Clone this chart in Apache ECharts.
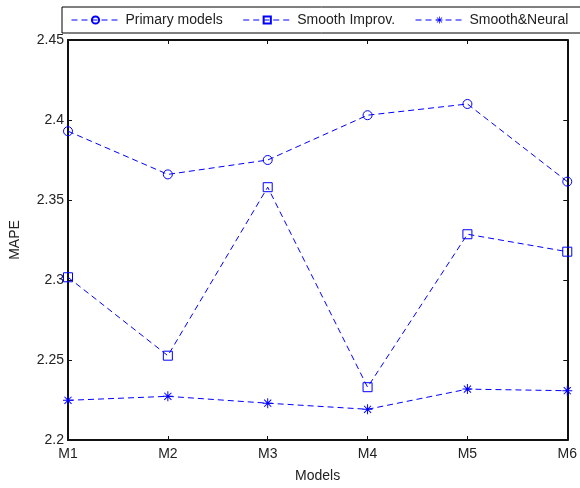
<!DOCTYPE html>
<html>
<head>
<meta charset="utf-8">
<script src="https://cdn.jsdelivr.net/npm/echarts@6/dist/echarts.min.js"></script>
<style>
  html, body { margin: 0; padding: 0; background: #fff; }
  #chart { width: 580px; height: 488px; }
</style>
</head>
<body>
<div id="chart"></div>
<script>
// data
var models = ['M1', 'M2', 'M3', 'M4', 'M5', 'M6'];
var primaryModels = [2.393, 2.366, 2.375, 2.403, 2.410, 2.3615];
var smoothImprov = [2.3017, 2.2527, 2.358, 2.233, 2.3286, 2.3177];
var smoothNeural = [2.2248, 2.2273, 2.223, 2.2192, 2.2318, 2.2308];

var blue = '#0000ff';
var asterisk = 'path://M4.5,0 L5.5,0 L5.5,10 L4.5,10 Z M0,4.5 L10,4.5 L10,5.5 L0,5.5 Z ' +
    'M1.1,1.8 L1.8,1.1 L8.9,8.2 L8.2,8.9 Z M8.2,1.1 L8.9,1.8 L1.8,8.9 L1.1,8.2 Z';

function lineSeries(name, data, symbol, size) {
    return {
        name: name,
        type: 'line',
        data: data,
        symbol: symbol,
        symbolSize: size,
        showAllSymbol: true,
        lineStyle: { color: blue, width: 1, type: [6, 4] },
        itemStyle: {
            color: symbol === asterisk ? blue : 'rgba(0,0,0,0)',
            borderColor: blue,
            borderWidth: symbol === asterisk ? 0 : 1
        },
        emphasis: { disabled: true }
    };
}

var axisLine = { show: true, lineStyle: { color: '#111', width: 2 } };
var axisTick = { show: true, inside: true, length: 4, lineStyle: { color: '#111' } };

var chart = echarts.init(document.getElementById('chart'));
chart.setOption({
    animation: false,
    backgroundColor: '#fff',
    textStyle: { fontFamily: 'Liberation Sans, Arial, sans-serif' },
    grid: { left: 67, right: 12, top: 40, bottom: 45 },
    legend: {
        left: 62,
        top: 7,
        width: 560,
        padding: [6, 14, 6, 9],
        itemGap: 20,
        itemWidth: 48,
        itemHeight: 9,
        borderColor: '#000',
        borderWidth: 1,
        lineStyle: { width: 1 },
        textStyle: { fontSize: 14, color: '#222', padding: [0, 0, 0, 1] },
        data: ['Primary models', 'Smooth Improv.', 'Smooth&Neural']
    },
    xAxis: [{
        type: 'category',
        data: models,
        boundaryGap: false,
        name: 'Models',
        nameLocation: 'middle',
        nameGap: 29,
        nameTextStyle: { fontSize: 14, color: '#222' },
        axisLine: axisLine,
        axisTick: axisTick,
        axisLabel: { fontSize: 14, color: '#222', margin: 7 },
        splitLine: { show: false }
    }, {
        type: 'category',
        data: models,
        boundaryGap: false,
        position: 'top',
        axisLine: axisLine,
        axisTick: axisTick,
        axisLabel: { show: false },
        splitLine: { show: false }
    }],
    yAxis: [{
        type: 'value',
        min: 2.2,
        max: 2.45,
        interval: 0.05,
        name: 'MAPE',
        nameLocation: 'middle',
        nameGap: 46,
        nameTextStyle: { fontSize: 14, color: '#222' },
        axisLine: axisLine,
        axisTick: axisTick,
        axisLabel: {
            fontSize: 14, color: '#222', margin: 4,
            formatter: function (v) { return String(Math.round(v * 100) / 100); }
        },
        splitLine: { show: false }
    }, {
        type: 'value',
        min: 2.2,
        max: 2.45,
        interval: 0.05,
        position: 'right',
        axisLine: axisLine,
        axisTick: axisTick,
        axisLabel: { show: false },
        splitLine: { show: false }
    }],
    series: [
        lineSeries('Primary models', primaryModels, 'circle', 9),
        lineSeries('Smooth Improv.', smoothImprov, 'rect', 9),
        lineSeries('Smooth&Neural', smoothNeural, asterisk, 10)
    ]
});
</script>
</body>
</html>
